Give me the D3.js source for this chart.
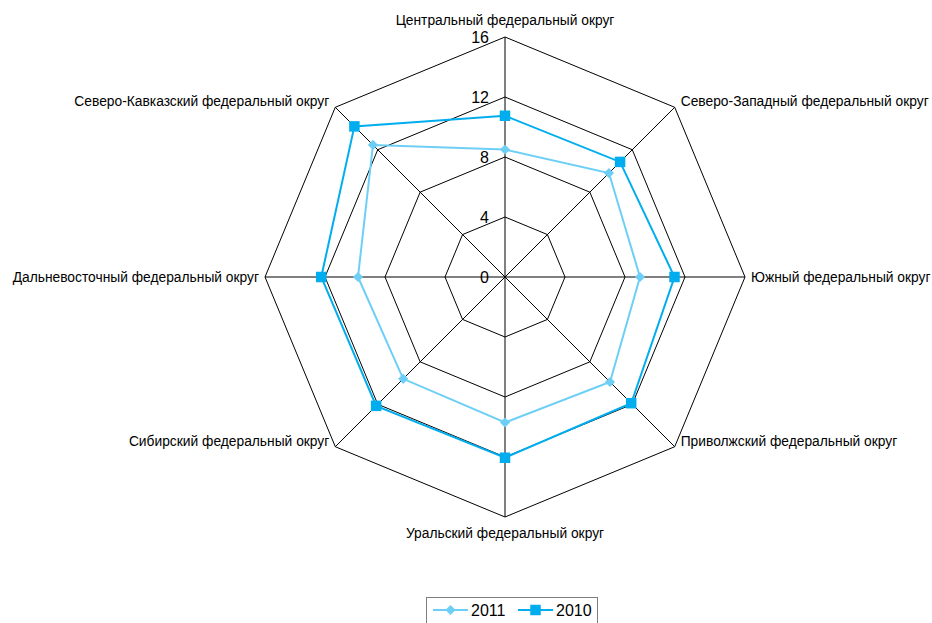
<!DOCTYPE html>
<html lang='ru'>
  <meta charset='utf-8'>
  <style>
    body{ margin: 0; background: #fff; }
    svg{ display: block; font-family: 'Liberation Sans', Arial, sans-serif; }
  </style>
  <body>
    <svg width='932' height='623'></svg>
    <script src='https://cdnjs.cloudflare.com/ajax/libs/d3/7.8.5/d3.min.js'></script>
    <script>
      // округа по часовой стрелке, начиная сверху
      const districts = [
        'Центральный федеральный округ',
        'Северо-Западный федеральный округ',
        'Южный федеральный округ',
        'Приволжский федеральный округ',
        'Уральский федеральный округ',
        'Сибирский федеральный округ',
        'Дальневосточный федеральный округ',
        'Северо-Кавказский федеральный округ'
      ]
      const values2011 = [8.5, 9.8, 9.0, 9.9, 9.7, 9.6, 9.8, 12.45]
      const values2010 = [10.75, 10.85, 11.3, 11.9, 12.05, 12.15, 12.25, 14.2]
      const ticks = [0, 4, 8, 12, 16]

      // ромб = повернутый квадрат
      const series = [
        {name: '2011', values: values2011, color: '#6dcff6', size: 52, rotate: 45},
        {name: '2010', values: values2010, color: '#00aeef', size: 110, rotate: 0}
      ]

      const cx = 505, cy = 277, R = 240
      const svg = d3.select('svg')
      const g = svg.append('g').attr('transform', `translate(${cx},${cy})`)

      const r = d3.scaleLinear().domain([0, 16]).range([0, R])
      const angle = d3.scaleLinear().domain([0, districts.length]).range([0, 2 * Math.PI])
      const pt = (i, v) => [Math.sin(angle(i)) * r(v), -Math.cos(angle(i)) * r(v)]

      // сетка
      ticks.slice(1).forEach((t) => {
        g.append('polygon')
          .attr('points', districts.map((d, i) => pt(i, t).join(',')).join(' '))
          .attr('fill', 'none')
          .attr('stroke', '#000')
          .attr('stroke-width', 1)
      })
      districts.forEach((d, i) => {
        const p = pt(i, 16)
        g.append('line')
          .attr('x1', 0).attr('y1', 0)
          .attr('x2', p[0]).attr('y2', p[1])
          .attr('stroke', '#000')
          .attr('stroke-width', 1)
      })

      // подписи шкалы
      g.selectAll('.tick-label').data(ticks).enter().append('text')
        .attr('class', 'tick-label')
        .attr('x', -16)
        .attr('y', (d) => -r(d))
        .attr('dy', '0.35em')
        .attr('text-anchor', 'end')
        .attr('font-size', 16)
        .attr('fill', '#000')
        .text((d) => d)

      // подписи округов
      districts.forEach((d, i) => {
        const p = pt(i, 16)
        const s = Math.sin(angle(i)), c = Math.cos(angle(i))
        let anchor = 'middle', x = p[0], y = p[1]
        if (s > 0.01) { anchor = 'start'; x += 6 }
        else if (s < -0.01) { anchor = 'end'; x -= 6 }
        if (Math.abs(s) < 0.01) {
          y += c > 0 ? -17 : 16
        } else if (Math.abs(c) > 0.01) {
          y -= 6
        }
        g.append('text')
          .attr('x', x).attr('y', y).attr('dy', '0.35em')
          .attr('text-anchor', anchor)
          .attr('font-size', 13.8)
          .attr('fill', '#000')
          .text(d)
      })

      // ряды данных
      const line = d3.lineRadial()
        .angle((d, i) => angle(i))
        .radius((d) => r(d))
        .curve(d3.curveLinearClosed)

      series.forEach((s) => {
        const marker = d3.symbol().type(d3.symbolSquare).size(s.size)
        g.append('path')
          .attr('d', line(s.values))
          .attr('fill', 'none')
          .attr('stroke', s.color)
          .attr('stroke-width', 2)
        g.selectAll(null).data(s.values).enter().append('path')
          .attr('transform', (d, i) => `translate(${pt(i, d).join(',')}) rotate(${s.rotate})`)
          .attr('d', marker)
          .attr('fill', s.color)
      })

      // легенда
      const legend = svg.append('g').attr('transform', 'translate(426,597)')
      legend.append('rect')
        .attr('x', 0.5).attr('y', 0.5)
        .attr('width', 171).attr('height', 30)
        .attr('fill', '#fff')
        .attr('stroke', '#7f7f7f')
      series.forEach((s, k) => {
        const lg = legend.append('g').attr('transform', `translate(${7 + k * 85},13)`)
        lg.append('line')
          .attr('x1', 0).attr('x2', 35).attr('y1', 0).attr('y2', 0)
          .attr('stroke', s.color).attr('stroke-width', 2)
        lg.append('path')
          .attr('transform', `translate(17.5,0) rotate(${s.rotate})`)
          .attr('d', d3.symbol().type(d3.symbolSquare).size(s.size))
          .attr('fill', s.color)
        lg.append('text')
          .attr('x', 38).attr('y', 0).attr('dy', '0.35em')
          .attr('font-size', 16)
          .attr('fill', '#000')
          .text(s.name)
      })
    </script>
  </body>
</html>
